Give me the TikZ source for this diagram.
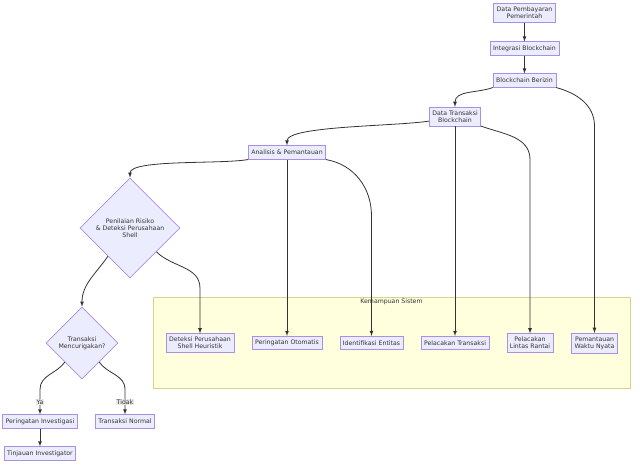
\documentclass[tikz,border=0pt]{standalone}
\usepackage{fontspec}
\setmainfont{DejaVu Sans}
\usetikzlibrary{arrows,shapes.geometric,calc}

\definecolor{boxfill}{HTML}{ECECFF}
\definecolor{boxline}{HTML}{A890E4}
\definecolor{txt}{HTML}{333333}
\definecolor{grpfill}{HTML}{FFFFDE}
\definecolor{grpline}{HTML}{D6D68A}

\begin{document}
\begin{tikzpicture}[>=latex, x=1pt, y=1pt,
  every node/.style={font=\fontsize{6.2}{7.2}\selectfont, text=txt},
  box/.style={draw=boxline, fill=boxfill, line width=0.6pt, align=center,
    inner xsep=3pt, inner ysep=3.3pt, minimum height=13.5pt},
  dia/.style={diamond, draw=boxline, fill=boxfill, line width=0.6pt,
    align=center, inner sep=0pt},
  lbl/.style={fill=black!9, inner sep=1pt},
  link/.style={->, draw=txt, line width=0.8pt}]

\useasboundingbox (0,0) rectangle (640,-469);

\draw[draw=grpline, fill=grpfill, line width=0.7pt] (153,-297) rectangle (630,-388);
\node at (391.5,-301.5) {Kemampuan Sistem};

\node (pembayaran) at (524.5,-13) [box] {Data Pembayaran\\Pemerintah};
\node (integrasi) at (524.5,-48.5) [box] {Integrasi Blockchain};
\node (berizin) at (524.5,-80.5) [box] {Blockchain Berizin};
\node (transaksi) at (455,-116.5) [box] {Data Transaksi\\Blockchain};
\node (analisis) at (287,-152.5) [box] {Analisis \& Pemantauan};

\node (risiko) at (130,-228) [dia, minimum width=100pt, minimum height=100pt]
  {Penilaian Risiko\\\& Deteksi Perusahaan\\Shell};
\node (curiga) at (82,-343) [dia, minimum width=72pt, minimum height=72pt]
  {Transaksi\\Mencurigakan?};

\node (invest) at (40,-421.5) [box] {Peringatan Investigasi};
\node (tinjau) at (40,-453.5) [box] {Tinjauan Investigator};
\node (normal) at (125,-421.5) [box] {Transaksi Normal};

\node (shell) at (200,-343) [box] {Deteksi Perusahaan\\Shell Heuristik};
\node (otomatis) at (287,-343) [box] {Peringatan Otomatis};
\node (entitas) at (371.5,-343) [box] {Identifikasi Entitas};
\node (lacak) at (455,-343) [box] {Pelacakan Transaksi};
\node (lintas) at (530,-343) [box] {Pelacakan\\Lintas Rantai};
\node (waktu) at (594.5,-343) [box] {Pemantauan\\Waktu Nyata};

\draw[link] (pembayaran) -- (integrasi);
\draw[link] (integrasi) -- (berizin);
\draw[link] (berizin.south west) to[out=-160,in=90] (transaksi.north);
\draw[link] (berizin.south east) to[out=-15,in=90] (waktu.north |- transaksi.south) -- (waktu.north);

\draw[link] (transaksi.190) to[out=-171,in=90,out looseness=0.6,in looseness=0.35] (analisis.north);
\draw[link] (transaksi) -- (lacak);
\draw[link] (transaksi.south east) to[out=-20,in=90] (lintas.north |- analisis.south) -- (lintas.north);

\draw[link] (analisis.south west) to[out=-170,in=90,out looseness=0.6,in looseness=0.4] (risiko.north);
\draw[link] (analisis) -- (otomatis);
\draw[link] (analisis.south east) to[out=-10,in=90] ($(entitas.north)+(0,120)$) -- (entitas.north);

\draw[link] (risiko.-42) to[out=-45,in=90] ($(shell.north)+(0,45)$) -- (shell.north);
\draw[link] (risiko.-128) to[out=-125,in=90] (curiga.north);

\draw[link] (curiga.-132) to[out=-125,in=90] ($(invest.north)+(0,25)$) -- node[lbl] {Ya} (invest.north);
\draw[link] (curiga.-48) to[out=-55,in=90] ($(normal.north)+(0,25)$) -- node[lbl] {Tidak} (normal.north);
\draw[link] (invest) -- (tinjau);

\end{tikzpicture}
\end{document}
